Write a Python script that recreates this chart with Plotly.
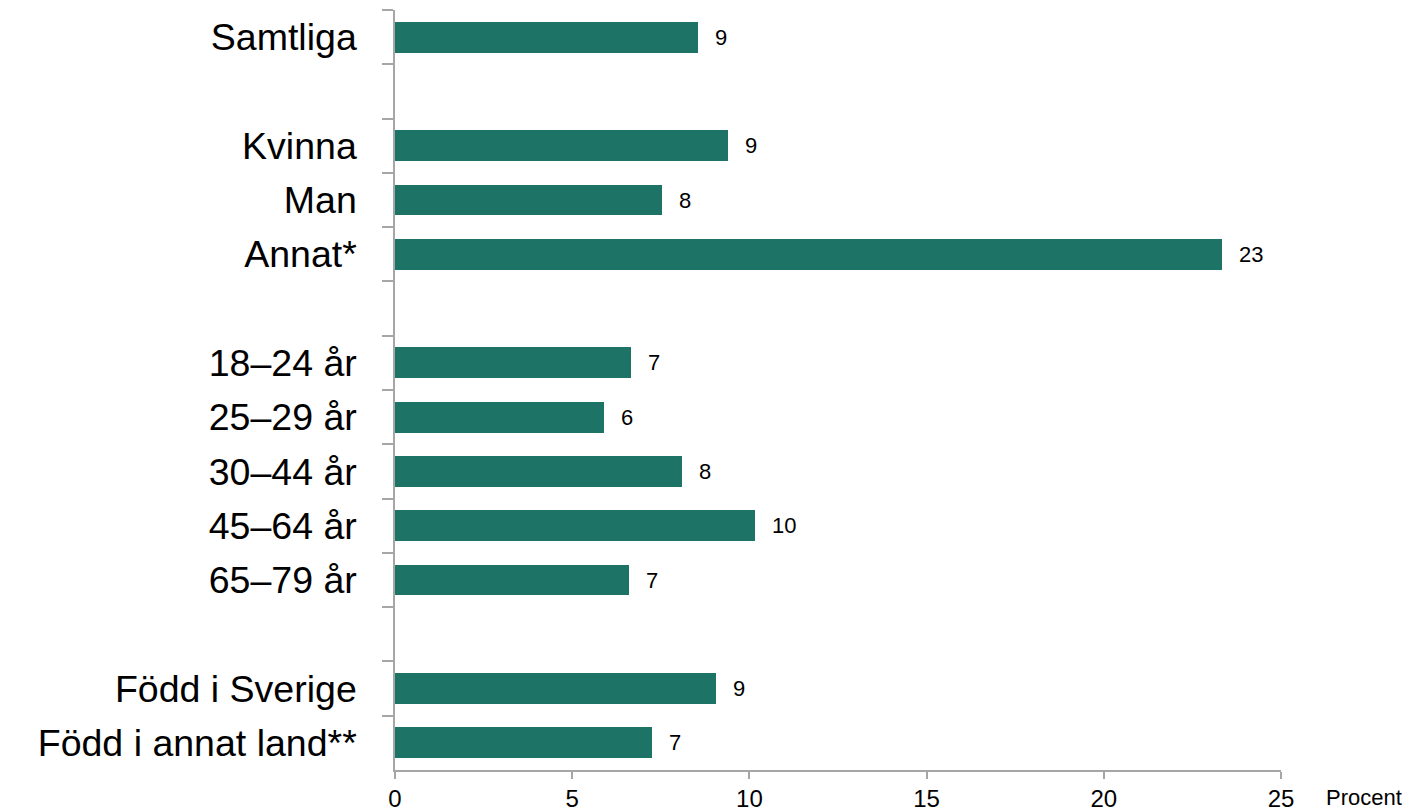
import plotly.graph_objects as go

categories = ["Samtliga", " ", "Kvinna", "Man", "Annat*", "  ",
              "18–24 år", "25–29 år", "30–44 år", "45–64 år", "65–79 år", "   ",
              "Född i Sverige", "Född i annat land**"]
values = [8.56, None, 9.41, 7.54, 23.33, None,
          6.67, 5.90, 8.11, 10.17, 6.61, None,
          9.07, 7.26]
labels = ["9", "", "9", "8", "23", "", "7", "6", "8", "10", "7", "", "9", "7"]
x_ticks = [0, 5, 10, 15, 20, 25]

bar_color = "#1d7466"
axis_color = "#a6a6a6"

fig = go.Figure()
fig.add_trace(go.Bar(
    y=categories, x=values, orientation="h",
    marker=dict(color=bar_color, line=dict(width=0)),
    width=0.57, hoverinfo="skip",
))

for c, v, t in zip(categories, values, labels):
    if v is None:
        continue
    fig.add_annotation(x=v, y=c, text=t, showarrow=False, xanchor="left",
                       xshift=15, font=dict(family="Liberation Sans", size=22, color="#000000"))

fig.add_annotation(xref="paper", yref="paper", x=1, y=0, text="Procent", showarrow=False,
                   xanchor="left", yanchor="top", xshift=43, yshift=-13,
                   font=dict(family="Liberation Sans", size=22, color="#000000"))

fig.update_layout(
    width=1406, height=804,
    margin=dict(l=387, r=133, t=2, b=42),
    paper_bgcolor="white", plot_bgcolor="white",
    showlegend=False,
    bargap=0,
)
fig.update_xaxes(
    range=[0, 25], tickvals=x_ticks, ticktext=[str(v) for v in x_ticks],
    showgrid=False, zeroline=False, showline=True, linecolor=axis_color, linewidth=1.5,
    ticks="outside", ticklen=7, tickcolor=axis_color, tickwidth=1.5,
    tickfont=dict(family="Liberation Sans", size=24, color="#000000"),
    ticklabelstandoff=-1,
    automargin=False,
)
fig.update_yaxes(
    type="category", categoryorder="array", categoryarray=categories,
    autorange="reversed",
    tickson="boundaries", ticks="outside", ticklen=11, tickcolor=axis_color, tickwidth=1.5,
    showgrid=False, zeroline=False, showline=True, linecolor=axis_color, linewidth=1.5,
    tickfont=dict(family="Liberation Sans", size=37.5, color="#000000"),
    ticklabelstandoff=29,
    automargin=False,
)

fig.write_html("out.html")
